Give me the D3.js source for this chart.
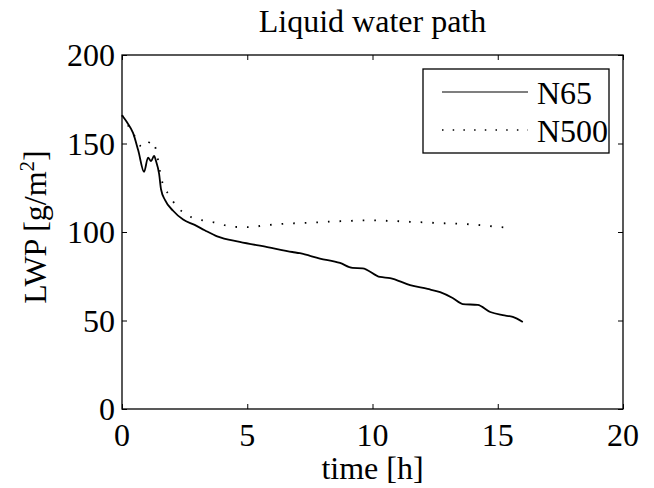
<!DOCTYPE html>
<meta charset="utf-8">
<script src="https://cdn.jsdelivr.net/npm/d3@7"></script>
<style>
    body { margin: 0; background: #fff; }
    text { font-family: "Liberation Serif", "Times New Roman", serif; fill: #000; }
</style>
<body>
<script>
// N65 run
var timeN65 = [0, 0.2, 0.44, 0.65, 0.88, 1.04, 1.16, 1.28, 1.36, 1.48, 1.56, 1.72, 2.04, 2.44, 2.9, 3.3, 3.8, 4.7, 5.8, 6.8, 7.1, 7.9, 8.7, 9.2, 9.6, 10.3, 10.7, 11.5, 12.2, 12.7, 13.2, 13.6, 14.2, 14.7, 15.2, 15.6, 16.0];
var lwpN65 = [166, 162, 156, 146, 134, 142, 140, 143, 140, 133, 124, 118, 112, 107, 104, 101, 97.5, 94.4, 91.5, 88.7, 88, 85, 82.5, 79.7, 79.5, 74.6, 74, 70, 67.8, 66, 62.7, 59.3, 58.8, 54.8, 53, 52, 49.2];
// N500 run
var timeN500 = [0, 0.25, 0.48, 0.72, 0.96, 1.15, 1.35, 1.52, 1.63, 1.88, 2.15, 2.48, 2.82, 3.27, 3.75, 4.23, 4.7, 5.2, 5.6, 6.15, 6.6, 7.07, 7.55, 8.0, 8.5, 9.0, 9.4, 9.9, 10.4, 10.9, 11.3, 11.8, 12.3, 12.7, 13.2, 13.7, 14.2, 14.65, 15.1, 15.6];
var lwpN500 = [166, 160, 154.8, 148.8, 148, 151.6, 146.9, 134, 127, 121, 115, 110.7, 108, 106.4, 105.3, 103.4, 102.8, 102.8, 103.6, 104.3, 104.8, 105, 105.3, 105.6, 106, 106.2, 106.5, 106.6, 106.4, 106.2, 105.9, 105.6, 105.3, 105, 104.8, 104.5, 104, 103.4, 102.8, 102];

var xTicks = [0, 5, 10, 15, 20];
var yTicks = [0, 50, 100, 150, 200];
var seriesNames = ["N65", "N500"];

var W = 654, H = 488;
var pl = 122, pr = 623, pt = 55, pb = 409;
var fs = 32;

var svg = d3.select("body").append("svg")
    .attr("width", W)
    .attr("height", H);

var x = d3.scaleLinear().domain([0, 20]).range([pl, pr]);
var y = d3.scaleLinear().domain([0, 200]).range([pb, pt]);

// axes, ticks point inward like matlab
svg.append("g").attr("transform", "translate(0," + pb + ")")
    .call(d3.axisTop(x).tickValues(xTicks).tickSize(5).tickFormat(""));
svg.append("g").attr("transform", "translate(0," + pt + ")")
    .call(d3.axisBottom(x).tickValues(xTicks).tickSize(5).tickFormat(""));
svg.append("g").attr("transform", "translate(" + pl + ",0)")
    .call(d3.axisRight(y).tickValues(yTicks).tickSize(5).tickFormat(""));
svg.append("g").attr("transform", "translate(" + pr + ",0)")
    .call(d3.axisLeft(y).tickValues(yTicks).tickSize(5).tickFormat(""));
svg.selectAll(".domain").remove();
svg.selectAll(".tick line").attr("stroke", "#000").attr("stroke-width", 1);
svg.selectAll(".tick text").remove();

svg.append("rect")
    .attr("x", pl).attr("y", pt)
    .attr("width", pr - pl).attr("height", pb - pt)
    .attr("fill", "none").attr("stroke", "#000").attr("stroke-width", 1.3);

// tick labels
svg.selectAll("text.xt")
    .data(xTicks)
    .enter().append("text")
    .attr("class", "xt")
    .attr("x", function(d) { return x(d); })
    .attr("y", 446)
    .attr("text-anchor", "middle")
    .attr("font-size", fs + "px")
    .text(function(d) { return d; });

svg.selectAll("text.yt")
    .data(yTicks)
    .enter().append("text")
    .attr("class", "yt")
    .attr("x", 115)
    .attr("y", function(d) { return y(d) + 11; })
    .attr("text-anchor", "end")
    .attr("font-size", fs + "px")
    .text(function(d) { return d; });

// title + labels
svg.append("text")
    .attr("x", (pl + pr) / 2).attr("y", 32)
    .attr("text-anchor", "middle")
    .attr("font-size", fs + "px")
    .text("Liquid water path");

svg.append("text")
    .attr("x", (pl + pr) / 2).attr("y", 479)
    .attr("text-anchor", "middle")
    .attr("font-size", fs + "px")
    .text("time [h]");

var yl = svg.append("text")
    .attr("transform", "translate(46," + 227 + ") rotate(-90)")
    .attr("text-anchor", "middle")
    .attr("font-size", fs + "px");
yl.append("tspan").text("LWP [g/m");
yl.append("tspan").attr("dy", -12).attr("font-size", "21px").text("2");
yl.append("tspan").attr("dy", 12).text("]");

// data lines
var line = d3.line()
    .curve(d3.curveMonotoneX)
    .x(function(d) { return x(d[0]); })
    .y(function(d) { return y(d[1]); });

svg.append("path")
    .datum(d3.zip(timeN65, lwpN65))
    .attr("d", line)
    .attr("fill", "none")
    .attr("stroke", "#000")
    .attr("stroke-width", 1.8);

svg.append("path")
    .datum(d3.zip(timeN500, lwpN500))
    .attr("d", line)
    .attr("fill", "none")
    .attr("stroke", "#000")
    .attr("stroke-width", 1.8)
    .attr("stroke-dasharray", "1.6,10");

// legend
svg.append("rect")
    .attr("x", 423).attr("y", 69)
    .attr("width", 186).attr("height", 84)
    .attr("fill", "#fff").attr("stroke", "#000").attr("stroke-width", 1.3);

var legY = [92, 130];
svg.selectAll("line.leg")
    .data(seriesNames)
    .enter().append("line")
    .attr("class", "leg")
    .attr("x1", 442).attr("x2", 528)
    .attr("y1", function(d, i) { return legY[i]; })
    .attr("y2", function(d, i) { return legY[i]; })
    .attr("stroke", "#000")
    .attr("stroke-width", function(d, i) { return i ? 1.6 : 1.2; })
    .attr("stroke-dasharray", function(d, i) { return i ? "1.5,9.2" : null; });

svg.selectAll("text.leg")
    .data(seriesNames)
    .enter().append("text")
    .attr("class", "leg")
    .attr("x", 537)
    .attr("y", function(d, i) { return legY[i] + 12; })
    .attr("font-size", fs + "px")
    .text(function(d) { return d; });
</script>
</body>
</html>
